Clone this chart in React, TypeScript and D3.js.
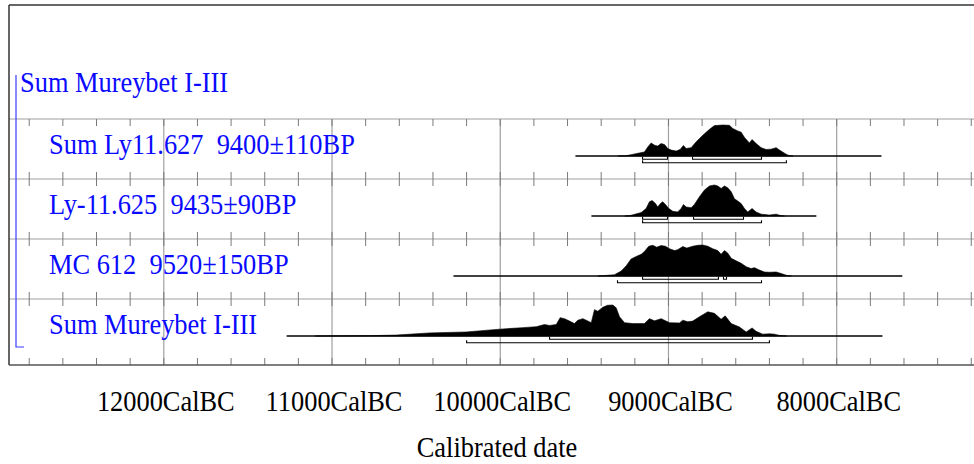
import React from "react";
import * as d3 from "d3";

// [calendar year BC, relative probability]
type Pt = [number, number];

const TOP_LABEL = "Sum Mureybet I-III";
const ROW_LABELS = [
  "Sum Ly11.627  9400±110BP",
  "Ly-11.625  9435±90BP",
  "MC 612  9520±150BP",
  "Sum Mureybet I-III",
];
const MAJOR_YEARS = [12000, 11000, 10000, 9000, 8000];
const MAJOR_LABELS = ["12000CalBC", "11000CalBC", "10000CalBC", "9000CalBC", "8000CalBC"];
const AXIS_TITLE = "Calibrated date";

const sumLy11627: Pt[] = [
  [9300, 0], [9251, 0.01], [9172, 0.1], [9143, 0.13], [9123, 0.29], [9103, 0.42], [9083, 0.35],
  [9064, 0.32], [9044, 0.4], [9024, 0.37], [9004, 0.24], [8984, 0.19], [8954, 0.16], [8931, 0.21],
  [8911, 0.34], [8895, 0.24], [8865, 0.27], [8835, 0.46], [8796, 0.67], [8756, 0.86], [8727, 0.98],
  [8677, 1.0], [8638, 0.99], [8618, 0.89], [8588, 0.81], [8568, 0.77], [8548, 0.6], [8519, 0.42],
  [8503, 0.53], [8479, 0.4], [8449, 0.27], [8420, 0.21], [8390, 0.22], [8360, 0.27], [8340, 0.19],
  [8301, 0.06], [8281, 0.01], [8260, 0],
];

const ly11625: Pt[] = [
  [9260, 0], [9232, 0.01], [9162, 0.11], [9133, 0.24], [9113, 0.46], [9097, 0.5], [9077, 0.4],
  [9064, 0.29], [9048, 0.4], [9034, 0.46], [9018, 0.37], [8998, 0.24], [8974, 0.15], [8945, 0.13],
  [8925, 0.24], [8911, 0.37], [8895, 0.29], [8865, 0.27], [8846, 0.37], [8816, 0.62], [8786, 0.84],
  [8756, 0.97], [8727, 1.0], [8707, 0.97], [8687, 0.89], [8667, 0.97], [8648, 0.91], [8627, 0.78],
  [8608, 0.56], [8588, 0.48], [8568, 0.4], [8548, 0.24], [8529, 0.13], [8503, 0.24], [8479, 0.13],
  [8449, 0.06], [8400, 0.03], [8360, 0.06], [8330, 0.01], [8310, 0],
];

const mc612: Pt[] = [
  [9420, 0], [9390, 0.01], [9321, 0.04], [9281, 0.16], [9251, 0.33], [9222, 0.55], [9192, 0.63],
  [9162, 0.7], [9143, 0.79], [9117, 0.96], [9093, 0.99], [9070, 0.93], [9044, 0.98], [9018, 0.96],
  [8994, 0.88], [8964, 0.82], [8945, 0.85], [8915, 0.95], [8891, 0.9], [8856, 0.96], [8826, 0.99],
  [8796, 1.0], [8766, 0.96], [8737, 0.88], [8707, 0.82], [8687, 0.7], [8667, 0.82], [8648, 0.74],
  [8627, 0.57], [8598, 0.49], [8568, 0.41], [8538, 0.3], [8509, 0.24], [8489, 0.27], [8459, 0.19],
  [8430, 0.13], [8400, 0.12], [8360, 0.13], [8330, 0.08], [8291, 0.01], [8270, 0],
];

const sumMureybet: Pt[] = [
  [11100, 0], [10777, 0.01], [10618, 0.03], [10420, 0.1], [10202, 0.13], [10004, 0.22], [9866, 0.27],
  [9786, 0.3], [9737, 0.37], [9707, 0.34], [9667, 0.37], [9644, 0.59], [9618, 0.56], [9588, 0.48],
  [9559, 0.4], [9539, 0.51], [9509, 0.56], [9489, 0.51], [9459, 0.43], [9440, 0.85], [9420, 0.8],
  [9390, 0.93], [9362, 0.99], [9331, 1.0], [9311, 0.91], [9291, 0.62], [9261, 0.43], [9212, 0.4],
  [9143, 0.4], [9113, 0.56], [9083, 0.49], [9043, 0.56], [9014, 0.48], [8994, 0.43], [8935, 0.42],
  [8915, 0.51], [8885, 0.46], [8856, 0.48], [8816, 0.62], [8766, 0.78], [8727, 0.73], [8687, 0.54],
  [8663, 0.65], [8627, 0.4], [8578, 0.29], [8538, 0.13], [8503, 0.26], [8479, 0.15], [8440, 0.06],
  [8400, 0.07], [8370, 0.06], [8340, 0.02], [8299, 0],
];

const DISTRIBUTIONS = [sumLy11627, ly11625, mc612, sumMureybet];

// extent of the baseline drawn under each distribution (years BC)
const LINE_EXTENTS: [number, number][] = [
  [9553, 7734],
  [9458, 8121],
  [10278, 7610],
  [11270, 7728],
];

// highest posterior density ranges
const RANGES_68: [number, number][][] = [
  [[9154, 9006], [8857, 8447]],
  [[9154, 9006], [8851, 8554]],
  [[9154, 8703], [8673, 8655]],
  [[9707, 8501]],
];
const RANGES_95: [number, number][][] = [
  [[9154, 8299]],
  [[9154, 8447]],
  [[9303, 8447]],
  [[10200, 8400]],
];

const W = 974;
const H = 464;
const FRAME_LEFT = 9;
const FRAME_TOP = 5;
const AXIS_Y = 365;
const FONT = "'Liberation Serif', 'Times New Roman', Times, serif";
const BLUE = "#0a0aff";
const FONT_SIZE = 30;
const SQUEEZE = 0.88;

export default function App() {
  const x = d3.scaleLinear().domain([12000, 8000]).range([163.8, 836.7]);
  const rowBand = d3
    .scaleBand<number>()
    .domain(d3.range(ROW_LABELS.length))
    .range([119, 359])
    .paddingInner(0);
  const baseline = (i: number) => (rowBand(i) as number) + 37;
  const h = d3.scaleLinear().domain([0, 1]).range([0, 31]);

  const minorYears = d3.range(12800, 7199, -200);
  const rowTops = ROW_LABELS.map((_, i) => rowBand(i) as number);

  const areaFor = (i: number) =>
    d3
      .area<Pt>()
      .x((d) => x(d[0]))
      .y0(baseline(i))
      .y1((d) => baseline(i) - h(d[1]))
      .curve(d3.curveLinear);

  const bracket = (a: number, b: number, y: number) => {
    const x1 = x(a);
    const x2 = x(b);
    return `M${x1},${y - 2.5}V${y}H${x2}V${y - 2.5}`;
  };

  const squeezedText = (
    str: string,
    tx: number,
    ty: number,
    anchor: "start" | "middle",
    fill: string,
    key: string | number
  ) => (
    <text
      key={key}
      transform={`translate(${tx},${ty}) scale(${SQUEEZE},1)`}
      fontFamily={FONT}
      fontSize={FONT_SIZE}
      fill={fill}
      textAnchor={anchor}
      style={{ whiteSpace: "pre" }}
    >
      {str}
    </text>
  );

  return (
    <svg
      width={W}
      height={H}
      style={{ position: "absolute", left: 0, top: 0, background: "#fff" }}
    >
      <rect x={0} y={0} width={W} height={H} fill="#fff" />

      {/* major gridlines */}
      {MAJOR_YEARS.map((yr) => (
        <line
          key={`g${yr}`}
          x1={x(yr)}
          x2={x(yr)}
          y1={rowTops[0]}
          y2={AXIS_Y}
          stroke="#a0a0a0"
          strokeWidth={1.2}
        />
      ))}

      {/* row separators */}
      {rowTops.map((y, i) => (
        <line key={`r${i}`} x1={FRAME_LEFT} x2={W} y1={y} y2={y} stroke="#a0a0a0" strokeWidth={1.2} />
      ))}

      {/* ticks under each row top and above each row bottom */}
      {rowTops.map((y, i) =>
        minorYears.map((yr) => (
          <line key={`td${i}-${yr}`} x1={x(yr)} x2={x(yr)} y1={y} y2={y + 7} stroke="#7a7a7a" strokeWidth={1} />
        ))
      )}
      {[...rowTops.slice(1), AXIS_Y].map((y, i) =>
        minorYears.map((yr) => (
          <line key={`tu${i}-${yr}`} x1={x(yr)} x2={x(yr)} y1={y - 7} y2={y} stroke="#7a7a7a" strokeWidth={1} />
        ))
      )}

      {/* frame */}
      <line x1={FRAME_LEFT} x2={W} y1={FRAME_TOP} y2={FRAME_TOP} stroke="#333" strokeWidth={1.5} />
      <line x1={FRAME_LEFT} x2={FRAME_LEFT} y1={FRAME_TOP} y2={AXIS_Y} stroke="#333" strokeWidth={1.5} />
      <line x1={FRAME_LEFT} x2={W} y1={AXIS_Y} y2={AXIS_Y} stroke="#555" strokeWidth={1.5} />

      {/* group bracket */}
      <path d={`M16,75V347H24`} fill="none" stroke="#3a3aff" strokeWidth={1.2} />

      {/* group label */}
      {squeezedText(TOP_LABEL, 20, 92, "start", BLUE, "top")}

      {/* distributions */}
      {DISTRIBUTIONS.map((pts, i) => (
        <g key={`d${i}`}>
          <path d={areaFor(i)(pts) ?? ""} fill="#000" stroke="#000" strokeWidth={0.6} />
          <line
            x1={x(LINE_EXTENTS[i][0])}
            x2={x(LINE_EXTENTS[i][1])}
            y1={baseline(i)}
            y2={baseline(i)}
            stroke="#000"
            strokeWidth={1.6}
          />
          {RANGES_68[i].map(([a, b], j) => (
            <path key={`a${j}`} d={bracket(a, b, baseline(i) + 3.2)} fill="none" stroke="#000" strokeWidth={1.1} />
          ))}
          {RANGES_95[i].map(([a, b], j) => (
            <path key={`b${j}`} d={bracket(a, b, baseline(i) + 6.7)} fill="none" stroke="#000" strokeWidth={1.1} />
          ))}
          {squeezedText(ROW_LABELS[i], 49, baseline(i) - 2, "start", BLUE, `l${i}`)}
        </g>
      ))}

      {/* axis labels */}
      {MAJOR_YEARS.map((yr, i) => squeezedText(MAJOR_LABELS[i], x(yr) + 2, 411, "middle", "#000", `m${yr}`))}
      {squeezedText(AXIS_TITLE, 497, 457, "middle", "#000", "title")}
    </svg>
  );
}
